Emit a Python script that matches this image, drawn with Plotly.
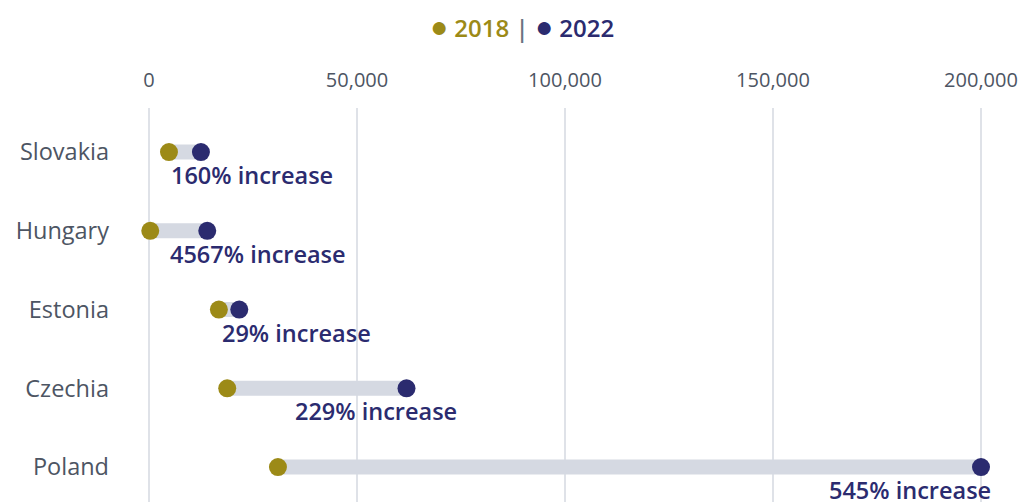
import plotly.graph_objects as go

countries = ["Slovakia", "Hungary", "Estonia", "Czechia", "Poland"]
values_2018 = [4800, 300, 16800, 18800, 31000]
values_2022 = [12480, 14000, 21700, 61900, 200000]
increase_labels = ["160% increase", "4567% increase", "29% increase", "229% increase", "545% increase"]
x_tickvals = [0, 50000, 100000, 150000, 200000]
x_ticktext = ["0", "50,000", "100,000", "150,000", "200,000"]

C2018 = "#9c8a17"
C2022 = "#2b2b6f"
BAR = "#d5d9e2"
GRID = "#dfe2e8"
TXT = "#4d5563"
FONT = "Open Sans"

label_xshift = [51, 51, 57, -31, -71]

ypos = list(range(len(countries)))

fig = go.Figure()
for i in ypos:
    fig.add_trace(go.Scatter(
        x=[values_2018[i], values_2022[i]], y=[i, i], mode="lines",
        line=dict(color=BAR, width=15), showlegend=False, hoverinfo="skip"))
fig.add_trace(go.Scatter(
    x=values_2018, y=ypos, mode="markers", name="2018",
    marker=dict(color=C2018, size=18), showlegend=False))
fig.add_trace(go.Scatter(
    x=values_2022, y=ypos, mode="markers", name="2022",
    marker=dict(color=C2022, size=18), showlegend=False))

for i in ypos:
    fig.add_annotation(
        x=values_2022[i], y=i, xref="x", yref="y", text=increase_labels[i],
        showarrow=False, xanchor="center", yanchor="middle",
        xshift=label_xshift[i], yshift=-23,
        font=dict(family=FONT, size=23.5, color=C2022, weight=600))

fig.add_annotation(
    x=(522 - 140) / 854, y=1 + (108 - 26) / 394, xref="paper", yref="paper",
    xanchor="center", yanchor="middle",
    text=(f"<span style='color:{C2018};font-size:30px'>●</span> "
          f"<span style='color:{C2018}'>2018</span> "
          f"<span style='color:#6b7280'>|</span> "
          f"<span style='color:{C2022};font-size:30px'>●</span> "
          f"<span style='color:{C2022}'>2022</span>"),
    showarrow=False,
    font=dict(family=FONT, size=24, weight=600))

fig.update_layout(
    width=1024, height=502,
    margin=dict(l=140, r=30, t=108, b=0),
    paper_bgcolor="white", plot_bgcolor="white",
    font=dict(family=FONT, size=20, color=TXT),
    xaxis=dict(side="top", range=[-2163, 203125], tickvals=x_tickvals,
               ticktext=x_ticktext, showgrid=True, gridcolor=GRID, gridwidth=2,
               zeroline=False, showline=False, ticklabelstandoff=16,
               tickfont=dict(family=FONT, size=20, color=TXT)),
    yaxis=dict(range=[4.444, -0.559], tickvals=ypos, ticktext=countries,
               showgrid=False, zeroline=False, showline=False,
               ticklabelstandoff=30,
               tickfont=dict(family=FONT, size=23.5, color=TXT)),
)

fig.write_html("out.html")
